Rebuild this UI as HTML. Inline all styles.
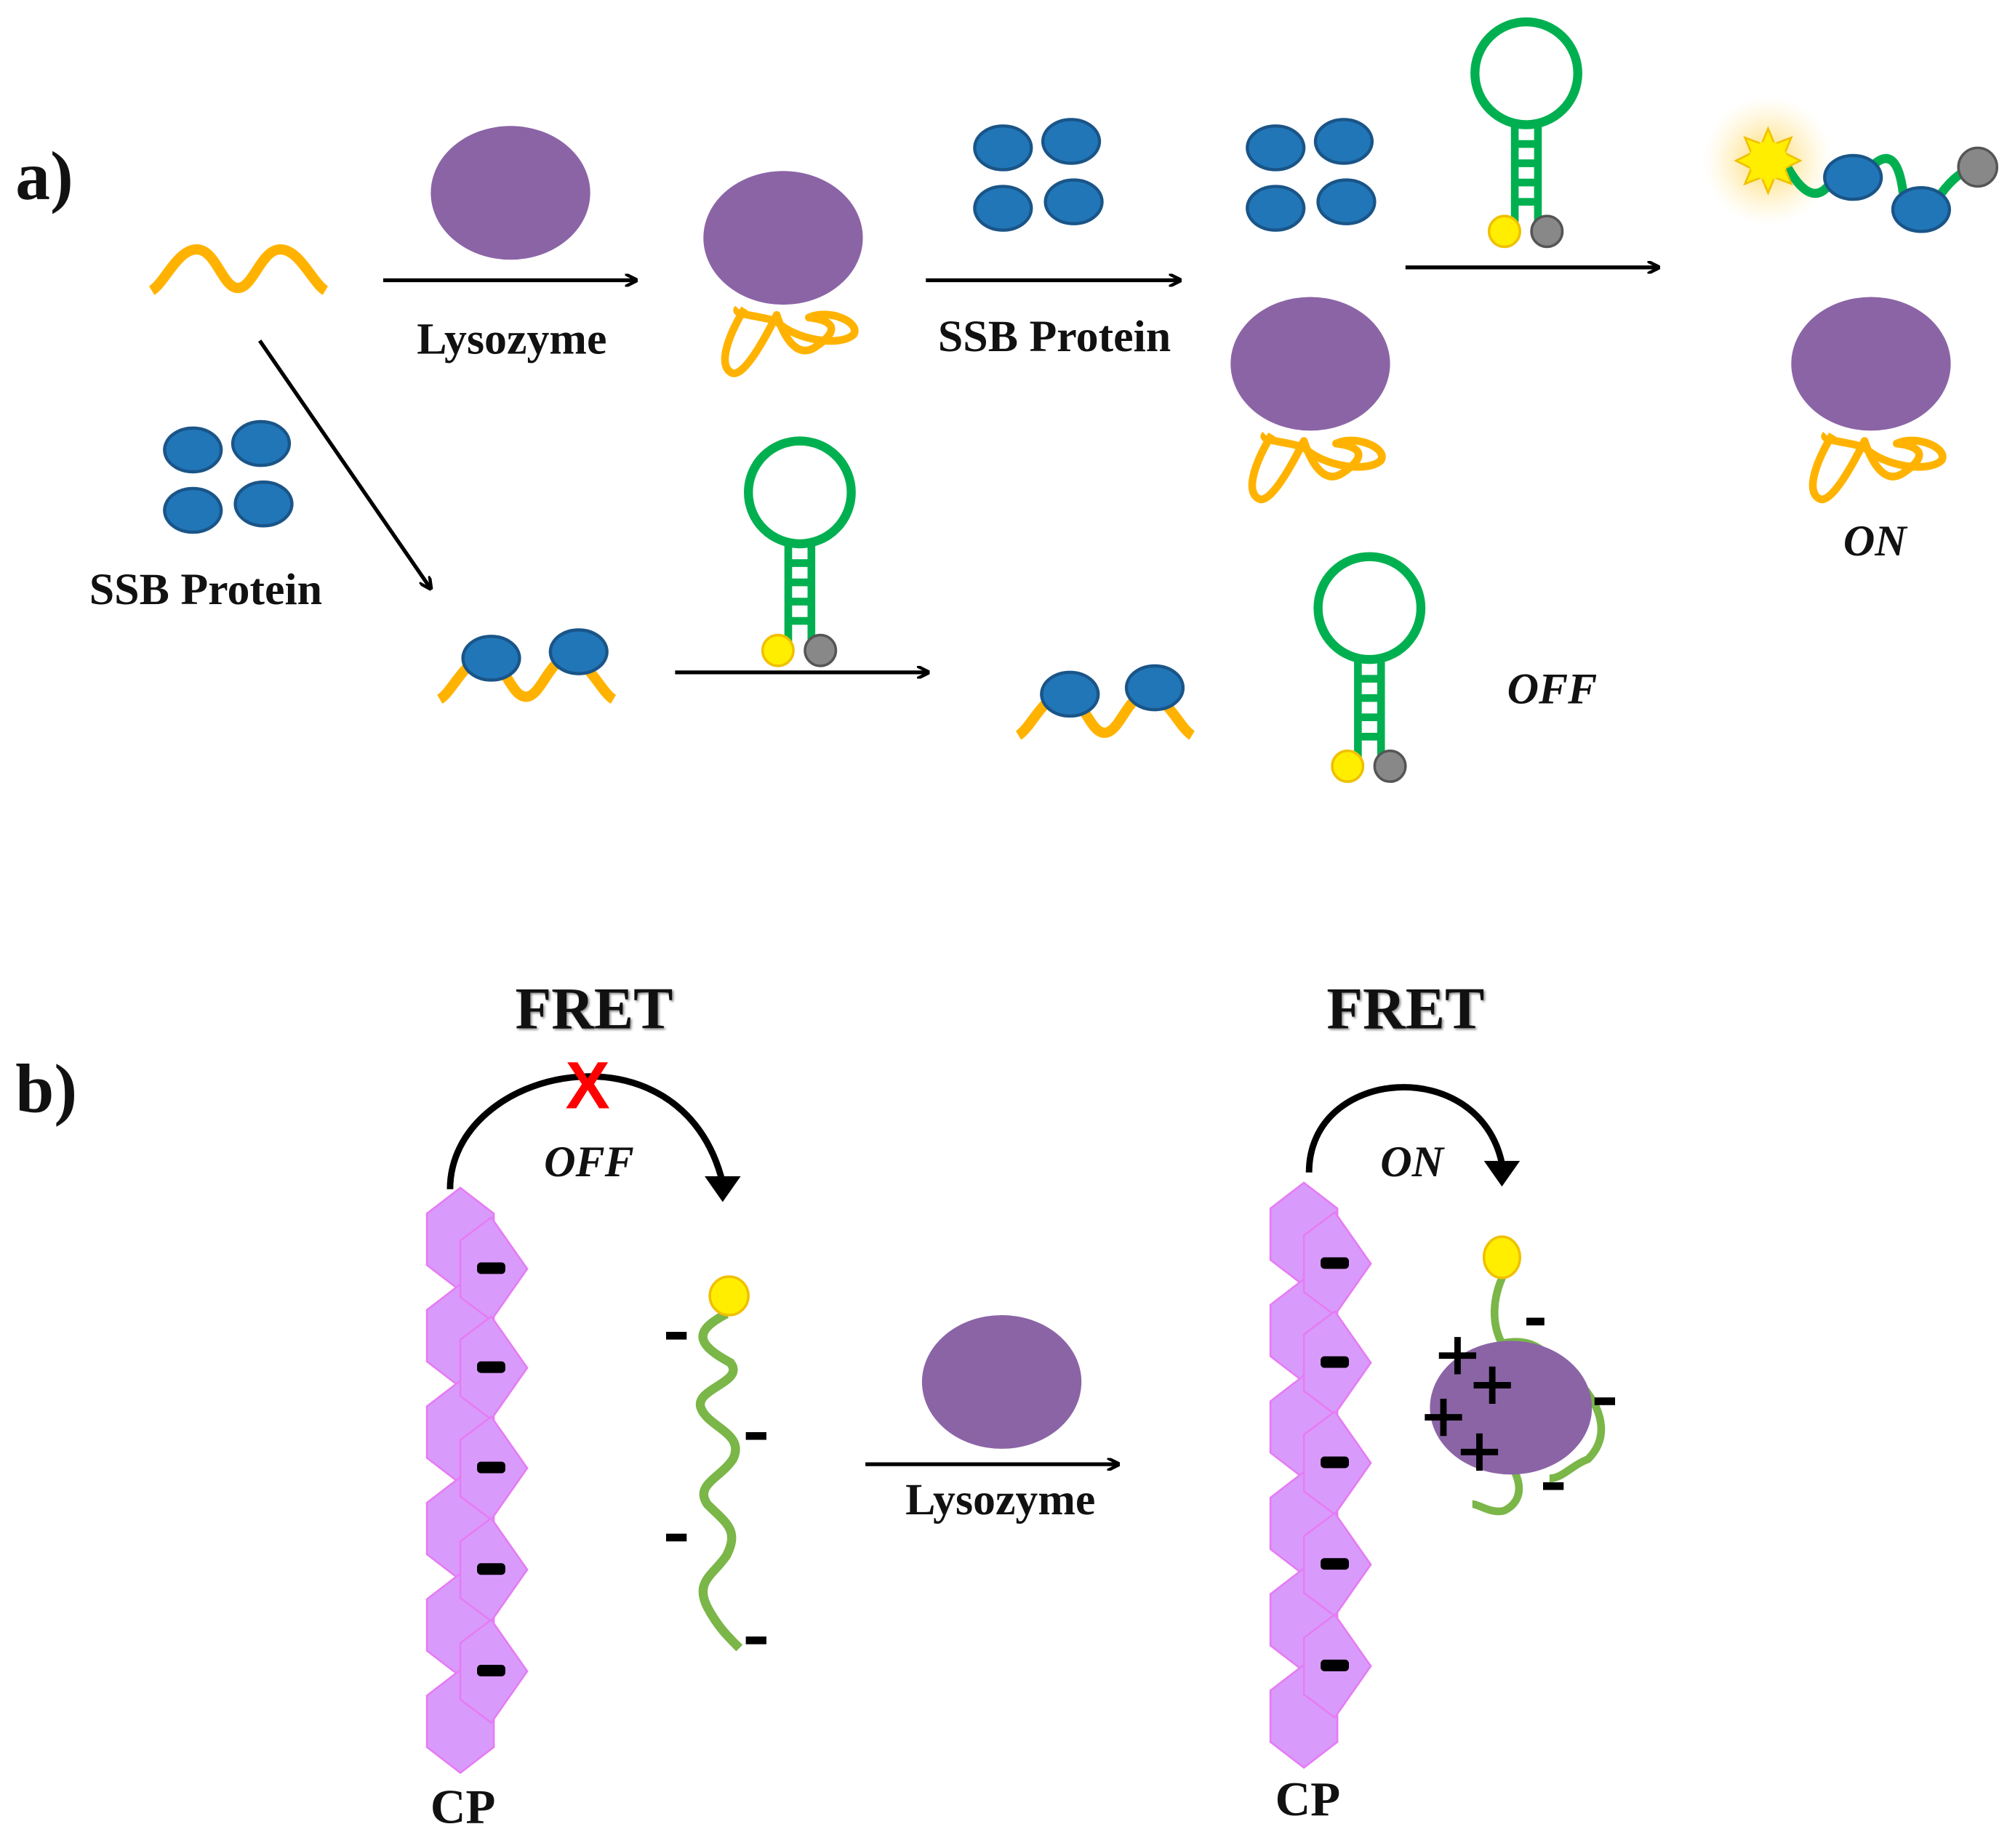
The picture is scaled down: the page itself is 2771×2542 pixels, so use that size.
<!DOCTYPE html>
<html><head><meta charset="utf-8"><style>
html,body{margin:0;padding:0;background:#fff;}
svg{display:block}
text{font-family:"Liberation Serif",serif;font-weight:bold;fill:#111}
</style></head><body>
<svg width="2771" height="2542" viewBox="0 0 1567 1437.5" xmlns="http://www.w3.org/2000/svg">
<defs>
<marker id="ah" markerWidth="10" markerHeight="10" refX="9" refY="5" orient="auto" markerUnits="userSpaceOnUse">
<path d="M0,0 L10,5 L0,10" fill="none" stroke="#000" stroke-width="2.5"/></marker>
<g id="blue"><ellipse rx="22" ry="17" fill="#2176b8" stroke="#1a5588" stroke-width="2.5"/></g>
<g id="quad"><use href="#blue" x="0" y="5"/><use href="#blue" x="53" y="0"/><use href="#blue" x="0" y="52"/><use href="#blue" x="55" y="47"/></g>
<g id="lyso"><ellipse cx="0" cy="0" rx="62" ry="52" fill="#8b64a6"/></g>
<g id="tangle"><path d="M-30,55 C-45,80 -50,100 -40,105 C-30,110 -10,70 -5,60 C0,75 10,95 25,85 C40,75 45,65 20,62 C35,55 60,65 55,75 C45,85 10,80 -5,65 C-20,60 -40,60 -35,55" fill="none" stroke="#ffb300" stroke-width="6" stroke-linejoin="round"/></g>
<g id="hairpin"><circle cx="0" cy="0" r="40" fill="none" stroke="#00b050" stroke-width="7"/>
<path d="M-9,38 V122 M9,38 V122 M-9,55 H9 M-9,70 H9 M-9,85 H9 M-9,100 H9" stroke="#00b050" stroke-width="6" fill="none"/>
<circle cx="-17" cy="123" r="12" fill="#ffee00" stroke="#f0c000" stroke-width="2"/>
<circle cx="16" cy="123" r="12" fill="#888" stroke="#555" stroke-width="2"/></g>
<g id="wave"><path d="M0,16 C10,10 20,-16 35,-16 C50,-16 55,14 67,14 C79,14 85,-16 100,-16 C115,-16 125,10 135,16" fill="none" stroke="#ffb300" stroke-width="8"/></g>
<g id="hex"><polygon points="26,0 52,20 52,60 26,80 0,60 0,20" fill="#d99bfb" stroke="#e57cf5" stroke-width="1.5"/></g>
<g id="dia"><polygon points="0,-22 24,-40 52,0 24,40 0,22" fill="#d99bfb" stroke="#e57cf5" stroke-width="1.5"/><rect x="13" y="-5" width="22" height="9" rx="3" fill="#000"/></g>
<g id="col"><use href="#hex" y="0"/><use href="#hex" y="75"/><use href="#hex" y="150"/><use href="#hex" y="225"/><use href="#hex" y="300"/><use href="#hex" y="375"/>
<use href="#dia" x="26" y="63"/><use href="#dia" x="26" y="140"/><use href="#dia" x="26" y="218"/><use href="#dia" x="26" y="297"/><use href="#dia" x="26" y="376"/></g>
<radialGradient id="glow"><stop offset="0" stop-color="#ffd24d" stop-opacity="0.9"/><stop offset="1" stop-color="#ffe9a0" stop-opacity="0"/></radialGradient>
</defs>

<text x="12" y="155" font-size="54">a)</text>
<use href="#wave" x="118" y="210"/>
<line x1="298" y1="218" x2="495" y2="218" stroke="#000" stroke-width="3" marker-end="url(#ah)"/>
<use href="#lyso" x="397" y="150"/>
<text x="398" y="275" font-size="35" text-anchor="middle">Lysozyme</text>
<use href="#tangle" x="609" y="185"/><use href="#lyso" x="609" y="185"/>
<use href="#quad" x="780" y="110"/>
<line x1="720" y1="218" x2="918" y2="218" stroke="#000" stroke-width="3" marker-end="url(#ah)"/>
<text x="820" y="273" font-size="35" text-anchor="middle">SSB Protein</text>
<use href="#quad" x="992" y="110"/>
<use href="#hairpin" x="1187" y="57"/>
<use href="#tangle" x="1019" y="283"/><use href="#lyso" x="1019" y="283"/>
<line x1="1093" y1="208" x2="1290" y2="208" stroke="#000" stroke-width="3" marker-end="url(#ah)"/>
<circle cx="1375" cy="125" r="50" fill="url(#glow)"/>
<path d="M1390,130 Q1410,165 1425,140 M1455,130 Q1475,110 1480,150 M1510,150 Q1525,130 1540,130" fill="none" stroke="#00b050" stroke-width="7"/>
<polygon points="1375,100 1380,112 1393,107 1388,119 1400,125 1388,131 1393,143 1380,138 1375,150 1370,138 1357,143 1362,131 1350,125 1362,119 1357,107 1370,112" fill="#ffee00" stroke="#f0c000" stroke-width="1.5"/>
<circle cx="1375" cy="125" r="15" fill="#ffee00"/>
<use href="#blue" x="1441" y="138"/><use href="#blue" x="1494" y="163"/>
<circle cx="1538" cy="130" r="15" fill="#888" stroke="#555" stroke-width="2"/>
<use href="#tangle" x="1455" y="283"/><use href="#lyso" x="1455" y="283"/>
<text x="1458" y="432" font-size="34" font-style="italic" text-anchor="middle">ON</text>

<line x1="202" y1="265" x2="335" y2="458" stroke="#000" stroke-width="3" marker-end="url(#ah)"/>
<use href="#quad" x="150" y="345"/>
<text x="160" y="470" font-size="35" text-anchor="middle">SSB Protein</text>
<use href="#wave" x="342" y="528"/>
<use href="#blue" x="382" y="512"/><use href="#blue" x="450" y="507"/>
<use href="#hairpin" x="622" y="383"/>
<line x1="525" y1="523" x2="722" y2="523" stroke="#000" stroke-width="3" marker-end="url(#ah)"/>
<use href="#wave" x="792" y="556"/>
<use href="#blue" x="832" y="540"/><use href="#blue" x="898" y="535"/>
<use href="#hairpin" x="1065" y="473"/>
<text x="1207" y="547" font-size="34" font-style="italic" text-anchor="middle">OFF</text>

<text x="12" y="865" font-size="54">b)</text>
<text x="462" y="800" font-size="46" text-anchor="middle" style="text-shadow:2px 2px 3px #888">FRET</text>
<path d="M350,925 C350,830 530,790 562,920" fill="none" stroke="#000" stroke-width="5"/>
<polygon points="548,915 576,915 562,935" fill="#000"/>
<text x="457" y="862" font-size="52" fill="#ff0000" style="fill:#ff0000;font-family:'Liberation Sans',sans-serif" text-anchor="middle">X</text>
<text x="458" y="915" font-size="34" font-style="italic" text-anchor="middle">OFF</text>
<use href="#col" x="332" y="924"/>
<path d="M565,1022 C540,1035 540,1045 568,1060 C580,1075 540,1080 545,1095 C550,1110 580,1115 570,1135 C560,1150 540,1155 550,1170 C565,1185 575,1190 565,1210 C555,1225 540,1230 550,1250 C558,1265 565,1272 575,1282" fill="none" stroke="#7ab648" stroke-width="7"/>
<ellipse cx="567" cy="1008" rx="15" ry="15" fill="#ffee00" stroke="#f0c000" stroke-width="2"/>
<rect x="518" y="1036" width="16" height="6" fill="#000"/><rect x="580" y="1114" width="16" height="6" fill="#000"/>
<rect x="518" y="1193" width="16" height="6" fill="#000"/><rect x="580" y="1273" width="16" height="6" fill="#000"/>
<use href="#lyso" x="779" y="1075"/>
<line x1="673" y1="1139" x2="870" y2="1139" stroke="#000" stroke-width="3" marker-end="url(#ah)"/>
<text x="778" y="1178" font-size="35" text-anchor="middle">Lysozyme</text>

<text x="1093" y="800" font-size="46" text-anchor="middle" style="text-shadow:2px 2px 3px #888">FRET</text>
<path d="M1018,912 C1018,830 1150,820 1168,905" fill="none" stroke="#000" stroke-width="5"/>
<polygon points="1154,903 1182,903 1168,923" fill="#000"/>
<text x="1098" y="915" font-size="34" font-style="italic" text-anchor="middle">ON</text>
<use href="#col" x="988" y="920"/>
<path d="M1170,990 C1160,1010 1160,1030 1168,1045 C1190,1040 1200,1050 1210,1060 M1232,1080 C1248,1100 1250,1120 1235,1135 C1222,1140 1215,1150 1205,1150 M1178,1145 C1185,1160 1180,1170 1170,1175 C1160,1178 1150,1170 1145,1170" fill="none" stroke="#7ab648" stroke-width="6"/>
<ellipse cx="1175" cy="1095" rx="63" ry="52" fill="#8b64a6"/>
<ellipse cx="1168" cy="978" rx="14" ry="16" fill="#ffee00" stroke="#f0c000" stroke-width="2"/>
<g fill="#000"><path d="M1131,1040 h5 v12 h12 v5 h-12 v12 h-5 v-12 h-12 v-5 h12z"/>
<path d="M1158,1063 h5 v12 h12 v5 h-12 v12 h-5 v-12 h-12 v-5 h12z"/>
<path d="M1120,1088 h5 v12 h12 v5 h-12 v12 h-5 v-12 h-12 v-5 h12z"/>
<path d="M1148,1115 h5 v12 h12 v5 h-12 v12 h-5 v-12 h-12 v-5 h12z"/></g>
<rect x="1187" y="1025" width="14" height="6" fill="#000"/><rect x="1240" y="1087" width="16" height="6" fill="#000"/><rect x="1200" y="1153" width="16" height="6" fill="#000"/>
<text x="360" y="1418" font-size="38" text-anchor="middle">CP</text>
<text x="1017" y="1412" font-size="38" text-anchor="middle">CP</text>
</svg>
</body></html>
